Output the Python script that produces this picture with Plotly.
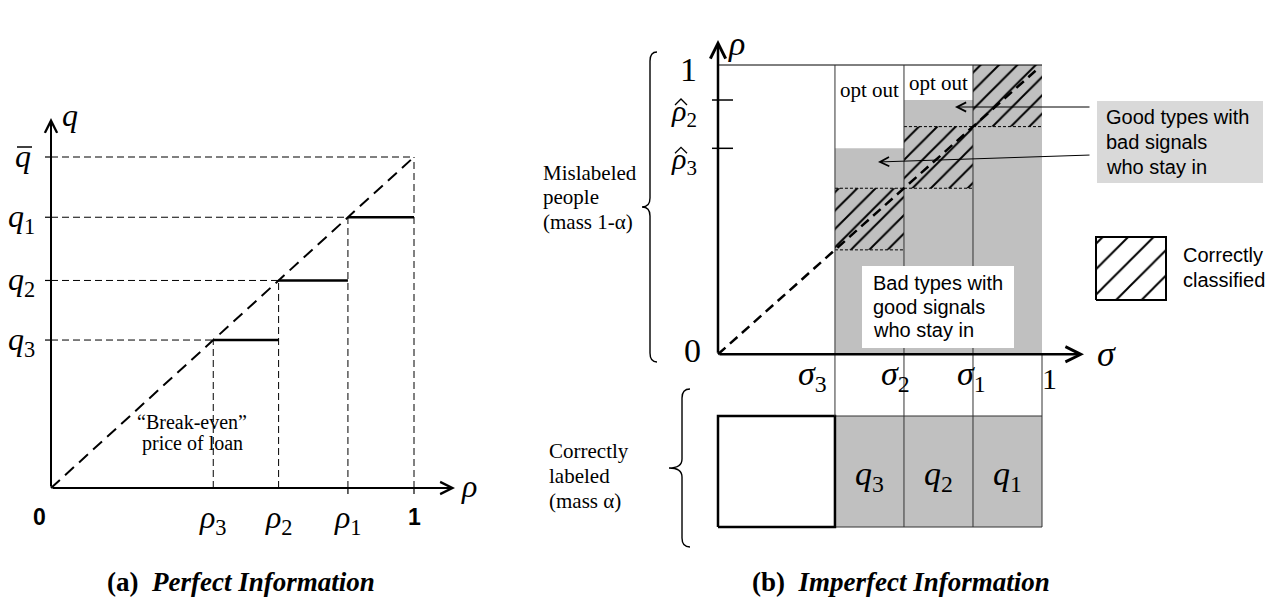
import plotly.graph_objects as go

W, H = 1276, 602
OFF = 8                      # the page body margin: figure starts 8px in
FW, FH = W - OFF, H - OFF

# ---------------- data ----------------
# (a) Perfect information
rho_cuts = [0.447, 0.627, 0.818]      # rho_3, rho_2, rho_1
q_prices = [0.447, 0.627, 0.818]      # q_3, q_2, q_1  (break-even price = rho * q_bar)
q_bar = 1.0
rho_top = 1.0
subs = ["3", "2", "1"]

# (b) Imperfect information
sigma_cuts = [0.361, 0.574, 0.787]    # sigma_3, sigma_2, sigma_1
sigma_top = 1.0
stay_top = [0.712, 0.879, 1.0]        # upper bound of people who stay in, per signal column
rho_hat = [0.712, 0.879]              # rho_hat_3, rho_hat_2
rho_hat_subs = ["3", "2"]
diag_end = 0.98

# ---------------- layout constants ----------------
SERIF = "Liberation Serif"
SANS = "Liberation Sans"
GRAY = "#c0c0c0"
A = dict(ox=51, oy=488, sx=363, sy=331)      # page-pixel anchors of panel (a)
B = dict(ox=718, oy=354.3, sx=324, sy=289.3)  # page-pixel anchors of panel (b)


def vx(px, P):
    return (px - P["ox"]) / P["sx"]


def vy(py, P):
    return (P["oy"] - py) / P["sy"]


def pap(px, py):
    return (px - OFF) / FW, 1 - (py - OFF) / FH


fig = go.Figure()


def seg_trace(segs, xa, ya, width, dash="solid", color="black"):
    xs, ys = [], []
    for x0, y0, x1, y1 in segs:
        xs += [x0, x1, None]
        ys += [y0, y1, None]
    fig.add_trace(go.Scatter(x=xs, y=ys, mode="lines", xaxis=xa, yaxis=ya,
                             line=dict(color=color, width=width, dash=dash),
                             hoverinfo="skip", showlegend=False))


def poly(xs, ys, xa, ya, fillcolor=None, line_color=None, line_width=0, pattern=None):
    kw = dict(x=xs, y=ys, mode="lines", fill="toself", xaxis=xa, yaxis=ya,
              hoverinfo="skip", showlegend=False,
              line=dict(width=line_width, color=line_color or "rgba(0,0,0,0)"))
    if fillcolor:
        kw["fillcolor"] = fillcolor
    if pattern:
        kw["fillpattern"] = pattern
    fig.add_trace(go.Scatter(**kw))


def txt(s, px, py, size, family=SERIF, xanchor="center", yanchor="middle",
        xref="paper", x=None, xshift=0, color="black"):
    xp, yp = pap(px if px is not None else OFF, py)
    fig.add_annotation(text=s, x=(x if x is not None else xp), y=yp, xref=xref, yref="paper",
                       showarrow=False, xanchor=xanchor, yanchor=yanchor, xshift=xshift,
                       font=dict(size=size, family=family, color=color))


def lines_txt(lines, px, py0, step, size, family):
    for i, s in enumerate(lines):
        txt(s, px, py0 + i * step, size, family=family, xanchor="left")


def arrow(x0, y0, x1, y1, xr, yr, width, head=5, size=1.2):
    fig.add_annotation(x=x1, y=y1, ax=x0, ay=y0, xref=xr, yref=yr, axref=xr, ayref=yr,
                       text="", showarrow=True, arrowhead=head, arrowsize=size,
                       arrowwidth=width, arrowcolor="black", standoff=0, startstandoff=0)


def path_shape(pts_px, width=1.5):
    parts = []
    for cmd, coords in pts_px:
        parts.append(cmd + " " + " ".join("{:.5f},{:.5f}".format(*pap(px, py)) for px, py in coords))
    fig.add_shape(type="path", path=" ".join(parts), xref="paper", yref="paper",
                  line=dict(color="black", width=width))


def brace(xb, xt, xe, yt, ym, yb, r=9, width=1.4):
    path_shape([("M", [(xe, yt)]), ("Q", [(xb, yt), (xb, yt + r)]),
                ("L", [(xb, ym - r)]), ("Q", [(xb, ym), (xt, ym)]),
                ("Q", [(xb, ym), (xb, ym + r)]), ("L", [(xb, yb - r)]),
                ("Q", [(xb, yb), (xe, yb)])], width=width)


# ================= panel (a) =================
guides = []
for r, q in zip(rho_cuts, q_prices):
    guides += [(0, q, r, q), (r, 0, r, q)]
guides += [(0, q_bar, rho_top, q_bar), (rho_top, 0, rho_top, q_bar)]
seg_trace(guides, "x", "y", 1, "7px,4px")
seg_trace([(0, 0, rho_top, q_bar)], "x", "y", 2, "12px,7px")
ends = rho_cuts[1:] + [rho_top]
seg_trace([(rho_cuts[k], q_prices[k], ends[k], q_prices[k]) for k in range(3)], "x", "y", 2.5)
tl = 6 / A["sx"]
seg_trace([(-tl, q, 0, q) for q in q_prices + [q_bar]], "x", "y", 1.2)
seg_trace([(r, 0, r, -6 / A["sy"]) for r in [rho_cuts[2], rho_top]], "x", "y", 1.2)

arrow(0, 0, 0, vy(118, A), "x", "y", 2)
arrow(0, 0, vx(455, A), 0, "x", "y", 2)

txt("<i>q</i>", 70, 115, 32)
txt("<i>ρ</i>", 469, 486, 32)
for q, s in zip(q_prices, subs):
    txt(f"<i>q</i><sub>{s}</sub>", 37, A["oy"] - q * A["sy"] + 1, 32, xanchor="right")
txt("<i>q</i>", 33, A["oy"] - q_bar * A["sy"] - 1, 32, xanchor="right")
path_shape([("M", [(17, 147)]), ("L", [(32, 147)])], width=1.5)
for r, s in zip(rho_cuts, subs):
    txt(f"<i>ρ</i><sub>{s}</sub>", None, 519, 32, xref="x", x=r)
txt("<b>0</b>", 39, 517, 23, family=SANS)
txt("<b>1</b>", None, 517, 23, family=SANS, xref="x", x=rho_top)
txt("“Break-even”", 192, 422, 20)
txt("price of loan", 192, 443, 20)
txt("<b>(a)</b>\u00a0\u00a0<b><i>Perfect Information</i></b>", 241, 582, 27)

# ================= panel (b) =================
box_top = vy(416, B)
box_bot = vy(527, B)
lefts = sigma_cuts
rights = sigma_cuts[1:] + [sigma_top]

for l, r, t in zip(lefts, rights, stay_top):
    poly([l, r, r, l, l], [0, 0, t, t, 0], "x2", "y2", fillcolor=GRAY)
for l, r in zip(lefts, rights):
    poly([l, r, r, l, l], [l, l, r, r, l], "x2", "y2", fillcolor=GRAY,
         pattern=dict(shape="/", size=13, solidity=0.15, fgcolor="black", fgopacity=1,
                      bgcolor=GRAY, fillmode="replace"))
dots = []
for l, r in zip(lefts, rights):
    dots.append((l, l, r, l))
    if r < sigma_top:
        dots.append((l, r, r, r))
seg_trace(dots, "x2", "y2", 1, "3px,2px")

# bottom (correctly labelled) boxes
poly([lefts[0], sigma_top, sigma_top, lefts[0], lefts[0]],
     [box_bot, box_bot, box_top, box_top, box_bot], "x2", "y2", fillcolor=GRAY,
     line_color="#333", line_width=1)
poly([0, lefts[0], lefts[0], 0, 0], [box_bot, box_bot, box_top, box_top, box_bot],
     "x2", "y2", fillcolor="white", line_color="black", line_width=2.5)

seg_trace([(0, 1, sigma_top, 1)], "x2", "y2", 1)
cl = [(sigma_cuts[0], 1, sigma_cuts[0], box_top)]
cl += [(s, 1, s, box_bot) for s in sigma_cuts[1:]]
cl += [(sigma_top, 0, sigma_top, box_top)]
seg_trace(cl, "x2", "y2", 1, color="#333")
seg_trace([(0, 0, diag_end, diag_end)], "x2", "y2", 2.5, "10px,6px")
seg_trace([(-6 / B["sx"], h, 15 / B["sx"], h) for h in rho_hat], "x2", "y2", 1.5)

arrow(0, 0, 0, vy(40, B), "x2", "y2", 2.5)
arrow(0, 0, vx(1084, B), 0, "x2", "y2", 2.5)

# axis labels
txt("<i>ρ</i>", 736, 44, 34)
txt("<i>σ</i>", 1106, 354, 36)
txt("1", 688, 69, 34)
txt("0", 692, 350, 34)
for h, s in zip(rho_hat, rho_hat_subs):
    yc = B["oy"] - h * B["sy"]
    txt(f"<i>ρ</i><sub>{s}</sub>", 684, yc + 13, 30)
    path_shape([("M", [(675, yc + 5)]), ("L", [(681, yc - 1)]), ("L", [(687, yc + 5)])],
               width=1.3)
sig_shift = [-22, -8, -1]
for s, sub, dx in zip(sigma_cuts, subs, sig_shift):
    txt(f"<i>σ</i><sub>{sub}</sub>", None, 376, 34, xref="x2", x=s, xshift=dx)
txt("1", None, 378, 30, xref="x2", x=sigma_top, xshift=7)
for l, r, s in zip(lefts, rights, subs):
    txt(f"<i>q</i><sub>{s}</sub>", None, 476, 34, xref="x2", x=(l + r) / 2)
for l, r, py in zip(lefts[:2], rights[:2], [90, 83]):
    txt("opt out", None, py, 21, xref="x2", x=(l + r) / 2)

# white label box: bad types
x0, y0 = pap(862, 266)
x1, y1 = pap(1014, 348)
fig.add_shape(type="rect", x0=x0, x1=x1, y0=y1, y1=y0, xref="paper", yref="paper",
              fillcolor="white", line=dict(width=0))
lines_txt(["Bad types with", "good signals", "who stay in"], 871, 283, 23.5, 20, SANS)

# gray label box: good types
x0, y0 = pap(1097, 101)
x1, y1 = pap(1263, 183)
fig.add_shape(type="rect", x0=x0, x1=x1, y0=y1, y1=y0, xref="paper", yref="paper",
              fillcolor="#d9d9d9", line=dict(width=0))
lines_txt(["Good types with", "bad signals", "who stay in"], 1104, 117, 25, 20, SANS)
arrow(vx(1091, B), vy(107, B), vx(955, B), vy(107, B), "x2", "y2", 1, head=5, size=1.8)
arrow(vx(1091, B), vy(155, B), vx(878, B), vy(162, B), "x2", "y2", 1, head=5, size=1.8)

# hatch legend
lx0, lx1 = vx(1096, B), vx(1166, B)
ly0, ly1 = vy(300, B), vy(237, B)
poly([lx0, lx1, lx1, lx0, lx0], [ly0, ly0, ly1, ly1, ly0], "x2", "y2", fillcolor="white",
     line_color="black", line_width=2,
     pattern=dict(shape="/", size=18, solidity=0.11, fgcolor="black", fgopacity=1,
                  bgcolor="white", fillmode="replace"))
lines_txt(["Correctly", "classified"], 1181, 255, 25, 20, SANS)

# braces & side notes
brace(650, 642, 657, 52, 207, 362)
brace(682, 669, 690, 389, 468, 547)
lines_txt(["Mislabeled", "people", "(mass 1-α)"], 541, 173, 24.5, 21, SERIF)
lines_txt(["Correctly", "labeled", "(mass α)"], 547, 451, 25, 21, SERIF)

txt("<b>(b)</b>\u00a0\u00a0<b><i>Imperfect Information</i></b>", 901, 582, 27)

# ---------------- axes ----------------
fig.update_layout(
    width=FW, height=FH, margin=dict(l=0, r=0, t=0, b=0),
    paper_bgcolor="white", plot_bgcolor="rgba(0,0,0,0)", showlegend=False, hovermode=False,
    xaxis=dict(domain=[0, 1], range=[vx(OFF, A), vx(W, A)], visible=False, fixedrange=True),
    yaxis=dict(domain=[0, 1], range=[vy(H, A), vy(OFF, A)], visible=False, fixedrange=True),
    xaxis2=dict(domain=[0, 1], range=[vx(OFF, B), vx(W, B)], visible=False, anchor="y2",
                fixedrange=True),
    yaxis2=dict(domain=[0, 1], range=[vy(H, B), vy(OFF, B)], visible=False, anchor="x2",
                fixedrange=True),
)

fig.write_html("out.html")
